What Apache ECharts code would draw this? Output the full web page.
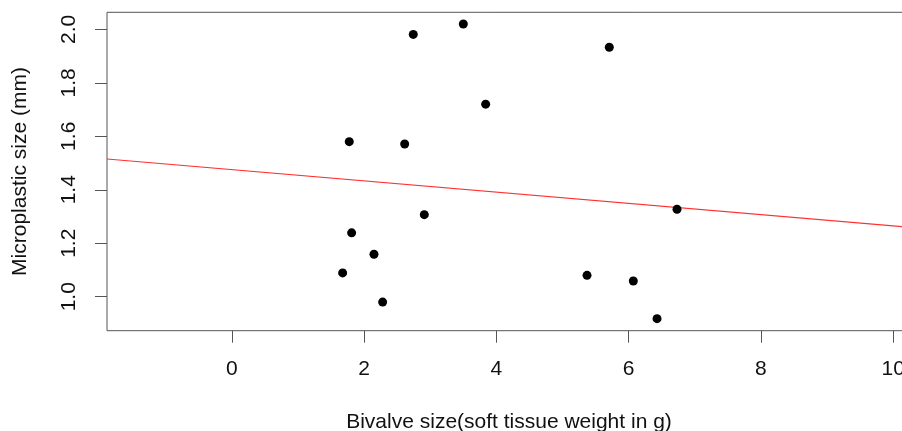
<!DOCTYPE html>
<html>
<head>
<meta charset="utf-8">
<script src="https://cdn.jsdelivr.net/npm/echarts@6/dist/echarts.min.js"></script>
<style>
html,body{margin:0;padding:0;background:#fff;}
#chart{width:902px;height:431px;}
</style>
</head>
<body>
<div id="chart"></div>
<script>
// Bivalve soft tissue weight (g)
var bivalveWeight = [2.742, 3.499, 3.837, 1.774, 2.612, 2.909, 1.810, 2.148, 1.674, 2.279, 5.370, 5.707, 6.731, 6.070, 6.429];
// Microplastic size (mm)
var microSize = [1.981, 2.020, 1.720, 1.580, 1.571, 1.307, 1.239, 1.159, 1.089, 0.980, 1.080, 1.933, 1.327, 1.059, 0.918];
// Fitted regression line (endpoints at x-range limits)
var fitX = [-1.89, 10.27];
var fitY = [1.515, 1.2596];
var xTicks = [0, 2, 4, 6, 8, 10];
var yTicks = [1.0, 1.2, 1.4, 1.6, 1.8, 2.0];

var font = '"Liberation Sans", Arial, sans-serif';
var txt = '#111';
var frame = '#555';

var points = bivalveWeight.map(function (x, i) { return [x, microSize[i]]; });
var fitLine = fitX.map(function (x, i) { return [x, fitY[i]]; });

var chart = echarts.init(document.getElementById('chart'), null, {renderer: 'canvas'});
chart.setOption({
  animation: false,
  backgroundColor: '#fff',
  grid: {
    left: 107, top: 12.3, width: 804, height: 318.4,
    outerBoundsMode: 'none', containLabel: false,
    show: true, borderColor: frame, borderWidth: 1, backgroundColor: 'transparent'
  },
  xAxis: {
    type: 'value', min: -1.89, max: 10.27,
    name: 'Bivalve size(soft tissue weight in g)',
    nameLocation: 'middle', nameGap: 81,
    nameTextStyle: {fontFamily: font, fontSize: 21, color: txt},
    axisLine: {show: false, onZero: false},
    splitLine: {show: false},
    axisTick: {show: true, inside: false, length: 12, customValues: xTicks, lineStyle: {color: frame, width: 1}},
    axisLabel: {customValues: xTicks, margin: 28, fontFamily: font, fontSize: 21, color: txt}
  },
  yAxis: {
    type: 'value', min: 0.873, max: 2.0636,
    name: 'Microplastic size (mm)',
    nameLocation: 'middle', nameGap: 76,
    nameTextStyle: {fontFamily: font, fontSize: 21, color: txt},
    axisLine: {show: false, onZero: false},
    splitLine: {show: false},
    axisTick: {show: true, inside: false, length: 12, customValues: yTicks, lineStyle: {color: frame, width: 1}},
    axisLabel: {customValues: yTicks, rotate: 90, margin: 27, fontFamily: font, fontSize: 21, color: txt,
      formatter: function (v) { return v.toFixed(1); }}
  },
  series: [
    {
      type: 'line', data: fitLine, symbol: 'none', silent: true,
      lineStyle: {color: '#ff3030', width: 1.2}, z: 2
    },
    {
      type: 'scatter', data: points, symbol: 'circle', symbolSize: 9,
      itemStyle: {color: '#000', opacity: 1}, z: 3
    }
  ]
});
</script>
</body>
</html>
